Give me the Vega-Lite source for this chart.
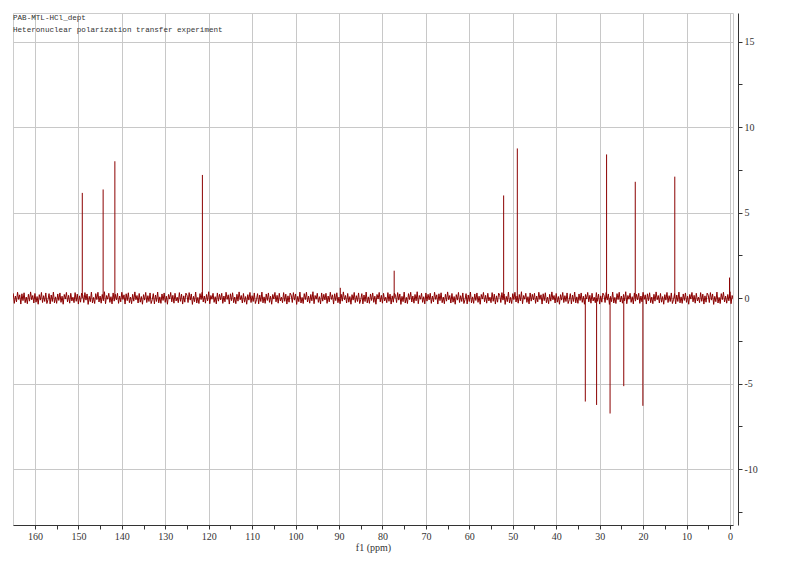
{
  "$schema": "https://vega.github.io/schema/vega-lite/v6.json",
  "width": 720,
  "height": 512,
  "autosize": {"type": "none"},
  "padding": {"left": 13, "top": 13, "right": 67, "bottom": 40},
  "background": "white",
  "title": {
    "text": ["PAB-MTL-HCl_dept", "Heteronuclear polarization transfer experiment"],
    "anchor": "start",
    "frame": "group",
    "orient": "top",
    "offset": -21,
    "font": "Liberation Mono",
    "fontSize": 7.6,
    "fontWeight": "normal",
    "color": "#333333",
    "lineHeight": 12
  },
  "config": {"view": {"stroke": "#cccccc"}},
  "datasets": {
    "noise": [
      {"ppm":165,"int":0.28},{"ppm":164.75,"int":-0.31},{"ppm":164.5,"int":0.12},{"ppm":164.25,"int":-0.22},{"ppm":164,"int":0.34},{"ppm":163.75,"int":-0.08},{"ppm":163.5,"int":0.19},{"ppm":163.25,"int":-0.35},{"ppm":163,"int":0.25},{"ppm":162.75,"int":-0.15},{"ppm":162.5,"int":0.31},{"ppm":162.25,"int":-0.27},{"ppm":162,"int":0.06},{"ppm":161.75,"int":-0.33},{"ppm":161.5,"int":0.22},{"ppm":161.25,"int":-0.18},{"ppm":161,"int":0.36},{"ppm":160.75,"int":-0.1},{"ppm":160.5,"int":0.15},{"ppm":160.25,"int":-0.29},{"ppm":160,"int":0.27},{"ppm":159.75,"int":-0.24},{"ppm":159.5,"int":0.09},{"ppm":159.25,"int":-0.36},{"ppm":159,"int":0.2},{"ppm":158.75,"int":-0.12},{"ppm":158.5,"int":0.33},{"ppm":158.25,"int":-0.26},{"ppm":158,"int":0.14},{"ppm":157.75,"int":-0.2},{"ppm":157.5,"int":0.3},{"ppm":157.25,"int":-0.32},
      {"ppm":157,"int":-0.1},{"ppm":156.75,"int":0.26},{"ppm":156.5,"int":-0.34},{"ppm":156.25,"int":0.18},{"ppm":156,"int":-0.2},{"ppm":155.75,"int":0.35},{"ppm":155.5,"int":-0.28},{"ppm":155.25,"int":0.07},{"ppm":155,"int":-0.31},{"ppm":154.75,"int":0.24},{"ppm":154.5,"int":-0.14},{"ppm":154.25,"int":0.3},{"ppm":154,"int":-0.25},{"ppm":153.75,"int":0.11},{"ppm":153.5,"int":-0.36},{"ppm":153.25,"int":0.21},{"ppm":153,"int":-0.06},{"ppm":152.75,"int":0.33},{"ppm":152.5,"int":-0.22},{"ppm":152.25,"int":0.16},{"ppm":152,"int":-0.3},{"ppm":151.75,"int":0.28},{"ppm":151.5,"int":-0.17},{"ppm":151.25,"int":0.05},{"ppm":151,"int":-0.27},{"ppm":150.75,"int":0.32},{"ppm":150.5,"int":-0.19},{"ppm":150.25,"int":0.23},{"ppm":150,"int":-0.35},{"ppm":149.75,"int":0.13},{"ppm":149.5,"int":-0.24},{"ppm":149.25,"int":0.29},
      {"ppm":149,"int":0.17},{"ppm":148.75,"int":-0.26},{"ppm":148.5,"int":0.32},{"ppm":148.25,"int":-0.12},{"ppm":148,"int":0.24},{"ppm":147.75,"int":-0.37},{"ppm":147.5,"int":0.1},{"ppm":147.25,"int":-0.21},{"ppm":147,"int":0.35},{"ppm":146.75,"int":-0.29},{"ppm":146.5,"int":0.04},{"ppm":146.25,"int":-0.32},{"ppm":146,"int":0.26},{"ppm":145.75,"int":-0.09},{"ppm":145.5,"int":0.34},{"ppm":145.25,"int":-0.23},{"ppm":145,"int":0.12},{"ppm":144.75,"int":-0.3},{"ppm":144.5,"int":0.21},{"ppm":144.25,"int":-0.16},{"ppm":144,"int":0.37},{"ppm":143.75,"int":-0.33},{"ppm":143.5,"int":0.15},{"ppm":143.25,"int":-0.07},{"ppm":143,"int":0.28},{"ppm":142.75,"int":-0.25},{"ppm":142.5,"int":0.08},{"ppm":142.25,"int":-0.34},{"ppm":142,"int":0.3},{"ppm":141.75,"int":-0.18},{"ppm":141.5,"int":0.22},{"ppm":141.25,"int":-0.11},
      {"ppm":141,"int":0.28},{"ppm":140.75,"int":-0.31},{"ppm":140.5,"int":0.12},{"ppm":140.25,"int":-0.22},{"ppm":140,"int":0.34},{"ppm":139.75,"int":-0.08},{"ppm":139.5,"int":0.19},{"ppm":139.25,"int":-0.35},{"ppm":139,"int":0.25},{"ppm":138.75,"int":-0.15},{"ppm":138.5,"int":0.31},{"ppm":138.25,"int":-0.27},{"ppm":138,"int":0.06},{"ppm":137.75,"int":-0.33},{"ppm":137.5,"int":0.22},{"ppm":137.25,"int":-0.18},{"ppm":137,"int":0.36},{"ppm":136.75,"int":-0.1},{"ppm":136.5,"int":0.15},{"ppm":136.25,"int":-0.29},{"ppm":136,"int":0.27},{"ppm":135.75,"int":-0.24},{"ppm":135.5,"int":0.09},{"ppm":135.25,"int":-0.36},{"ppm":135,"int":0.2},{"ppm":134.75,"int":-0.12},{"ppm":134.5,"int":0.33},{"ppm":134.25,"int":-0.26},{"ppm":134,"int":0.14},{"ppm":133.75,"int":-0.2},{"ppm":133.5,"int":0.3},{"ppm":133.25,"int":-0.32},
      {"ppm":133,"int":-0.1},{"ppm":132.75,"int":0.26},{"ppm":132.5,"int":-0.34},{"ppm":132.25,"int":0.18},{"ppm":132,"int":-0.2},{"ppm":131.75,"int":0.35},{"ppm":131.5,"int":-0.28},{"ppm":131.25,"int":0.07},{"ppm":131,"int":-0.31},{"ppm":130.75,"int":0.24},{"ppm":130.5,"int":-0.14},{"ppm":130.25,"int":0.3},{"ppm":130,"int":-0.25},{"ppm":129.75,"int":0.11},{"ppm":129.5,"int":-0.36},{"ppm":129.25,"int":0.21},{"ppm":129,"int":-0.06},{"ppm":128.75,"int":0.33},{"ppm":128.5,"int":-0.22},{"ppm":128.25,"int":0.16},{"ppm":128,"int":-0.3},{"ppm":127.75,"int":0.28},{"ppm":127.5,"int":-0.17},{"ppm":127.25,"int":0.05},{"ppm":127,"int":-0.27},{"ppm":126.75,"int":0.32},{"ppm":126.5,"int":-0.19},{"ppm":126.25,"int":0.23},{"ppm":126,"int":-0.35},{"ppm":125.75,"int":0.13},{"ppm":125.5,"int":-0.24},{"ppm":125.25,"int":0.29},
      {"ppm":125,"int":0.17},{"ppm":124.75,"int":-0.26},{"ppm":124.5,"int":0.32},{"ppm":124.25,"int":-0.12},{"ppm":124,"int":0.24},{"ppm":123.75,"int":-0.37},{"ppm":123.5,"int":0.1},{"ppm":123.25,"int":-0.21},{"ppm":123,"int":0.35},{"ppm":122.75,"int":-0.29},{"ppm":122.5,"int":0.04},{"ppm":122.25,"int":-0.32},{"ppm":122,"int":0.26},{"ppm":121.75,"int":-0.09},{"ppm":121.5,"int":0.34},{"ppm":121.25,"int":-0.23},{"ppm":121,"int":0.12},{"ppm":120.75,"int":-0.3},{"ppm":120.5,"int":0.21},{"ppm":120.25,"int":-0.16},{"ppm":120,"int":0.37},{"ppm":119.75,"int":-0.33},{"ppm":119.5,"int":0.15},{"ppm":119.25,"int":-0.07},{"ppm":119,"int":0.28},{"ppm":118.75,"int":-0.25},{"ppm":118.5,"int":0.08},{"ppm":118.25,"int":-0.34},{"ppm":118,"int":0.3},{"ppm":117.75,"int":-0.18},{"ppm":117.5,"int":0.22},{"ppm":117.25,"int":-0.11},
      {"ppm":117,"int":0.28},{"ppm":116.75,"int":-0.31},{"ppm":116.5,"int":0.12},{"ppm":116.25,"int":-0.22},{"ppm":116,"int":0.34},{"ppm":115.75,"int":-0.08},{"ppm":115.5,"int":0.19},{"ppm":115.25,"int":-0.35},{"ppm":115,"int":0.25},{"ppm":114.75,"int":-0.15},{"ppm":114.5,"int":0.31},{"ppm":114.25,"int":-0.27},{"ppm":114,"int":0.06},{"ppm":113.75,"int":-0.33},{"ppm":113.5,"int":0.22},{"ppm":113.25,"int":-0.18},{"ppm":113,"int":0.36},{"ppm":112.75,"int":-0.1},{"ppm":112.5,"int":0.15},{"ppm":112.25,"int":-0.29},{"ppm":112,"int":0.27},{"ppm":111.75,"int":-0.24},{"ppm":111.5,"int":0.09},{"ppm":111.25,"int":-0.36},{"ppm":111,"int":0.2},{"ppm":110.75,"int":-0.12},{"ppm":110.5,"int":0.33},{"ppm":110.25,"int":-0.26},{"ppm":110,"int":0.14},{"ppm":109.75,"int":-0.2},{"ppm":109.5,"int":0.3},{"ppm":109.25,"int":-0.32},
      {"ppm":109,"int":-0.1},{"ppm":108.75,"int":0.26},{"ppm":108.5,"int":-0.34},{"ppm":108.25,"int":0.18},{"ppm":108,"int":-0.2},{"ppm":107.75,"int":0.35},{"ppm":107.5,"int":-0.28},{"ppm":107.25,"int":0.07},{"ppm":107,"int":-0.31},{"ppm":106.75,"int":0.24},{"ppm":106.5,"int":-0.14},{"ppm":106.25,"int":0.3},{"ppm":106,"int":-0.25},{"ppm":105.75,"int":0.11},{"ppm":105.5,"int":-0.36},{"ppm":105.25,"int":0.21},{"ppm":105,"int":-0.06},{"ppm":104.75,"int":0.33},{"ppm":104.5,"int":-0.22},{"ppm":104.25,"int":0.16},{"ppm":104,"int":-0.3},{"ppm":103.75,"int":0.28},{"ppm":103.5,"int":-0.17},{"ppm":103.25,"int":0.05},{"ppm":103,"int":-0.27},{"ppm":102.75,"int":0.32},{"ppm":102.5,"int":-0.19},{"ppm":102.25,"int":0.23},{"ppm":102,"int":-0.35},{"ppm":101.75,"int":0.13},{"ppm":101.5,"int":-0.24},{"ppm":101.25,"int":0.29},
      {"ppm":101,"int":0.17},{"ppm":100.75,"int":-0.26},{"ppm":100.5,"int":0.32},{"ppm":100.25,"int":-0.12},{"ppm":100,"int":0.24},{"ppm":99.75,"int":-0.37},{"ppm":99.5,"int":0.1},{"ppm":99.25,"int":-0.21},{"ppm":99,"int":0.35},{"ppm":98.75,"int":-0.29},{"ppm":98.5,"int":0.04},{"ppm":98.25,"int":-0.32},{"ppm":98,"int":0.26},{"ppm":97.75,"int":-0.09},{"ppm":97.5,"int":0.34},{"ppm":97.25,"int":-0.23},{"ppm":97,"int":0.12},{"ppm":96.75,"int":-0.3},{"ppm":96.5,"int":0.21},{"ppm":96.25,"int":-0.16},{"ppm":96,"int":0.37},{"ppm":95.75,"int":-0.33},{"ppm":95.5,"int":0.15},{"ppm":95.25,"int":-0.07},{"ppm":95,"int":0.28},{"ppm":94.75,"int":-0.25},{"ppm":94.5,"int":0.08},{"ppm":94.25,"int":-0.34},{"ppm":94,"int":0.3},{"ppm":93.75,"int":-0.18},{"ppm":93.5,"int":0.22},{"ppm":93.25,"int":-0.11},
      {"ppm":93,"int":0.28},{"ppm":92.75,"int":-0.31},{"ppm":92.5,"int":0.12},{"ppm":92.25,"int":-0.22},{"ppm":92,"int":0.34},{"ppm":91.75,"int":-0.08},{"ppm":91.5,"int":0.19},{"ppm":91.25,"int":-0.35},{"ppm":91,"int":0.25},{"ppm":90.75,"int":-0.15},{"ppm":90.5,"int":0.31},{"ppm":90.25,"int":-0.27},{"ppm":90,"int":0.06},{"ppm":89.75,"int":-0.33},{"ppm":89.5,"int":0.22},{"ppm":89.25,"int":-0.18},{"ppm":89,"int":0.36},{"ppm":88.75,"int":-0.1},{"ppm":88.5,"int":0.15},{"ppm":88.25,"int":-0.29},{"ppm":88,"int":0.27},{"ppm":87.75,"int":-0.24},{"ppm":87.5,"int":0.09},{"ppm":87.25,"int":-0.36},{"ppm":87,"int":0.2},{"ppm":86.75,"int":-0.12},{"ppm":86.5,"int":0.33},{"ppm":86.25,"int":-0.26},{"ppm":86,"int":0.14},{"ppm":85.75,"int":-0.2},{"ppm":85.5,"int":0.3},{"ppm":85.25,"int":-0.32},
      {"ppm":85,"int":-0.1},{"ppm":84.75,"int":0.26},{"ppm":84.5,"int":-0.34},{"ppm":84.25,"int":0.18},{"ppm":84,"int":-0.2},{"ppm":83.75,"int":0.35},{"ppm":83.5,"int":-0.28},{"ppm":83.25,"int":0.07},{"ppm":83,"int":-0.31},{"ppm":82.75,"int":0.24},{"ppm":82.5,"int":-0.14},{"ppm":82.25,"int":0.3},{"ppm":82,"int":-0.25},{"ppm":81.75,"int":0.11},{"ppm":81.5,"int":-0.36},{"ppm":81.25,"int":0.21},{"ppm":81,"int":-0.06},{"ppm":80.75,"int":0.33},{"ppm":80.5,"int":-0.22},{"ppm":80.25,"int":0.16},{"ppm":80,"int":-0.3},{"ppm":79.75,"int":0.28},{"ppm":79.5,"int":-0.17},{"ppm":79.25,"int":0.05},{"ppm":79,"int":-0.27},{"ppm":78.75,"int":0.32},{"ppm":78.5,"int":-0.19},{"ppm":78.25,"int":0.23},{"ppm":78,"int":-0.35},{"ppm":77.75,"int":0.13},{"ppm":77.5,"int":-0.24},{"ppm":77.25,"int":0.29},
      {"ppm":77,"int":0.17},{"ppm":76.75,"int":-0.26},{"ppm":76.5,"int":0.32},{"ppm":76.25,"int":-0.12},{"ppm":76,"int":0.24},{"ppm":75.75,"int":-0.37},{"ppm":75.5,"int":0.1},{"ppm":75.25,"int":-0.21},{"ppm":75,"int":0.35},{"ppm":74.75,"int":-0.29},{"ppm":74.5,"int":0.04},{"ppm":74.25,"int":-0.32},{"ppm":74,"int":0.26},{"ppm":73.75,"int":-0.09},{"ppm":73.5,"int":0.34},{"ppm":73.25,"int":-0.23},{"ppm":73,"int":0.12},{"ppm":72.75,"int":-0.3},{"ppm":72.5,"int":0.21},{"ppm":72.25,"int":-0.16},{"ppm":72,"int":0.37},{"ppm":71.75,"int":-0.33},{"ppm":71.5,"int":0.15},{"ppm":71.25,"int":-0.07},{"ppm":71,"int":0.28},{"ppm":70.75,"int":-0.25},{"ppm":70.5,"int":0.08},{"ppm":70.25,"int":-0.34},{"ppm":70,"int":0.3},{"ppm":69.75,"int":-0.18},{"ppm":69.5,"int":0.22},{"ppm":69.25,"int":-0.11},
      {"ppm":69,"int":0.28},{"ppm":68.75,"int":-0.31},{"ppm":68.5,"int":0.12},{"ppm":68.25,"int":-0.22},{"ppm":68,"int":0.34},{"ppm":67.75,"int":-0.08},{"ppm":67.5,"int":0.19},{"ppm":67.25,"int":-0.35},{"ppm":67,"int":0.25},{"ppm":66.75,"int":-0.15},{"ppm":66.5,"int":0.31},{"ppm":66.25,"int":-0.27},{"ppm":66,"int":0.06},{"ppm":65.75,"int":-0.33},{"ppm":65.5,"int":0.22},{"ppm":65.25,"int":-0.18},{"ppm":65,"int":0.36},{"ppm":64.75,"int":-0.1},{"ppm":64.5,"int":0.15},{"ppm":64.25,"int":-0.29},{"ppm":64,"int":0.27},{"ppm":63.75,"int":-0.24},{"ppm":63.5,"int":0.09},{"ppm":63.25,"int":-0.36},{"ppm":63,"int":0.2},{"ppm":62.75,"int":-0.12},{"ppm":62.5,"int":0.33},{"ppm":62.25,"int":-0.26},{"ppm":62,"int":0.14},{"ppm":61.75,"int":-0.2},{"ppm":61.5,"int":0.3},{"ppm":61.25,"int":-0.32},
      {"ppm":61,"int":-0.1},{"ppm":60.75,"int":0.26},{"ppm":60.5,"int":-0.34},{"ppm":60.25,"int":0.18},{"ppm":60,"int":-0.2},{"ppm":59.75,"int":0.35},{"ppm":59.5,"int":-0.28},{"ppm":59.25,"int":0.07},{"ppm":59,"int":-0.31},{"ppm":58.75,"int":0.24},{"ppm":58.5,"int":-0.14},{"ppm":58.25,"int":0.3},{"ppm":58,"int":-0.25},{"ppm":57.75,"int":0.11},{"ppm":57.5,"int":-0.36},{"ppm":57.25,"int":0.21},{"ppm":57,"int":-0.06},{"ppm":56.75,"int":0.33},{"ppm":56.5,"int":-0.22},{"ppm":56.25,"int":0.16},{"ppm":56,"int":-0.3},{"ppm":55.75,"int":0.28},{"ppm":55.5,"int":-0.17},{"ppm":55.25,"int":0.05},{"ppm":55,"int":-0.27},{"ppm":54.75,"int":0.32},{"ppm":54.5,"int":-0.19},{"ppm":54.25,"int":0.23},{"ppm":54,"int":-0.35},{"ppm":53.75,"int":0.13},{"ppm":53.5,"int":-0.24},{"ppm":53.25,"int":0.29},
      {"ppm":53,"int":0.17},{"ppm":52.75,"int":-0.26},{"ppm":52.5,"int":0.32},{"ppm":52.25,"int":-0.12},{"ppm":52,"int":0.24},{"ppm":51.75,"int":-0.37},{"ppm":51.5,"int":0.1},{"ppm":51.25,"int":-0.21},{"ppm":51,"int":0.35},{"ppm":50.75,"int":-0.29},{"ppm":50.5,"int":0.04},{"ppm":50.25,"int":-0.32},{"ppm":50,"int":0.26},{"ppm":49.75,"int":-0.09},{"ppm":49.5,"int":0.34},{"ppm":49.25,"int":-0.23},{"ppm":49,"int":0.12},{"ppm":48.75,"int":-0.3},{"ppm":48.5,"int":0.21},{"ppm":48.25,"int":-0.16},{"ppm":48,"int":0.37},{"ppm":47.75,"int":-0.33},{"ppm":47.5,"int":0.15},{"ppm":47.25,"int":-0.07},{"ppm":47,"int":0.28},{"ppm":46.75,"int":-0.25},{"ppm":46.5,"int":0.08},{"ppm":46.25,"int":-0.34},{"ppm":46,"int":0.3},{"ppm":45.75,"int":-0.18},{"ppm":45.5,"int":0.22},{"ppm":45.25,"int":-0.11},
      {"ppm":45,"int":0.28},{"ppm":44.75,"int":-0.31},{"ppm":44.5,"int":0.12},{"ppm":44.25,"int":-0.22},{"ppm":44,"int":0.34},{"ppm":43.75,"int":-0.08},{"ppm":43.5,"int":0.19},{"ppm":43.25,"int":-0.35},{"ppm":43,"int":0.25},{"ppm":42.75,"int":-0.15},{"ppm":42.5,"int":0.31},{"ppm":42.25,"int":-0.27},{"ppm":42,"int":0.06},{"ppm":41.75,"int":-0.33},{"ppm":41.5,"int":0.22},{"ppm":41.25,"int":-0.18},{"ppm":41,"int":0.36},{"ppm":40.75,"int":-0.1},{"ppm":40.5,"int":0.15},{"ppm":40.25,"int":-0.29},{"ppm":40,"int":0.27},{"ppm":39.75,"int":-0.24},{"ppm":39.5,"int":0.09},{"ppm":39.25,"int":-0.36},{"ppm":39,"int":0.2},{"ppm":38.75,"int":-0.12},{"ppm":38.5,"int":0.33},{"ppm":38.25,"int":-0.26},{"ppm":38,"int":0.14},{"ppm":37.75,"int":-0.2},{"ppm":37.5,"int":0.3},{"ppm":37.25,"int":-0.32},
      {"ppm":37,"int":-0.1},{"ppm":36.75,"int":0.26},{"ppm":36.5,"int":-0.34},{"ppm":36.25,"int":0.18},{"ppm":36,"int":-0.2},{"ppm":35.75,"int":0.35},{"ppm":35.5,"int":-0.28},{"ppm":35.25,"int":0.07},{"ppm":35,"int":-0.31},{"ppm":34.75,"int":0.24},{"ppm":34.5,"int":-0.14},{"ppm":34.25,"int":0.3},{"ppm":34,"int":-0.25},{"ppm":33.75,"int":0.11},{"ppm":33.5,"int":-0.36},{"ppm":33.25,"int":0.21},{"ppm":33,"int":-0.06},{"ppm":32.75,"int":0.33},{"ppm":32.5,"int":-0.22},{"ppm":32.25,"int":0.16},{"ppm":32,"int":-0.3},{"ppm":31.75,"int":0.28},{"ppm":31.5,"int":-0.17},{"ppm":31.25,"int":0.05},{"ppm":31,"int":-0.27},{"ppm":30.75,"int":0.32},{"ppm":30.5,"int":-0.19},{"ppm":30.25,"int":0.23},{"ppm":30,"int":-0.35},{"ppm":29.75,"int":0.13},{"ppm":29.5,"int":-0.24},{"ppm":29.25,"int":0.29},
      {"ppm":29,"int":0.17},{"ppm":28.75,"int":-0.26},{"ppm":28.5,"int":0.32},{"ppm":28.25,"int":-0.12},{"ppm":28,"int":0.24},{"ppm":27.75,"int":-0.37},{"ppm":27.5,"int":0.1},{"ppm":27.25,"int":-0.21},{"ppm":27,"int":0.35},{"ppm":26.75,"int":-0.29},{"ppm":26.5,"int":0.04},{"ppm":26.25,"int":-0.32},{"ppm":26,"int":0.26},{"ppm":25.75,"int":-0.09},{"ppm":25.5,"int":0.34},{"ppm":25.25,"int":-0.23},{"ppm":25,"int":0.12},{"ppm":24.75,"int":-0.3},{"ppm":24.5,"int":0.21},{"ppm":24.25,"int":-0.16},{"ppm":24,"int":0.37},{"ppm":23.75,"int":-0.33},{"ppm":23.5,"int":0.15},{"ppm":23.25,"int":-0.07},{"ppm":23,"int":0.28},{"ppm":22.75,"int":-0.25},{"ppm":22.5,"int":0.08},{"ppm":22.25,"int":-0.34},{"ppm":22,"int":0.3},{"ppm":21.75,"int":-0.18},{"ppm":21.5,"int":0.22},{"ppm":21.25,"int":-0.11},
      {"ppm":21,"int":0.28},{"ppm":20.75,"int":-0.31},{"ppm":20.5,"int":0.12},{"ppm":20.25,"int":-0.22},{"ppm":20,"int":0.34},{"ppm":19.75,"int":-0.08},{"ppm":19.5,"int":0.19},{"ppm":19.25,"int":-0.35},{"ppm":19,"int":0.25},{"ppm":18.75,"int":-0.15},{"ppm":18.5,"int":0.31},{"ppm":18.25,"int":-0.27},{"ppm":18,"int":0.06},{"ppm":17.75,"int":-0.33},{"ppm":17.5,"int":0.22},{"ppm":17.25,"int":-0.18},{"ppm":17,"int":0.36},{"ppm":16.75,"int":-0.1},{"ppm":16.5,"int":0.15},{"ppm":16.25,"int":-0.29},{"ppm":16,"int":0.27},{"ppm":15.75,"int":-0.24},{"ppm":15.5,"int":0.09},{"ppm":15.25,"int":-0.36},{"ppm":15,"int":0.2},{"ppm":14.75,"int":-0.12},{"ppm":14.5,"int":0.33},{"ppm":14.25,"int":-0.26},{"ppm":14,"int":0.14},{"ppm":13.75,"int":-0.2},{"ppm":13.5,"int":0.3},{"ppm":13.25,"int":-0.32},
      {"ppm":13,"int":-0.1},{"ppm":12.75,"int":0.26},{"ppm":12.5,"int":-0.34},{"ppm":12.25,"int":0.18},{"ppm":12,"int":-0.2},{"ppm":11.75,"int":0.35},{"ppm":11.5,"int":-0.28},{"ppm":11.25,"int":0.07},{"ppm":11,"int":-0.31},{"ppm":10.75,"int":0.24},{"ppm":10.5,"int":-0.14},{"ppm":10.25,"int":0.3},{"ppm":10,"int":-0.25},{"ppm":9.75,"int":0.11},{"ppm":9.5,"int":-0.36},{"ppm":9.25,"int":0.21},{"ppm":9,"int":-0.06},{"ppm":8.75,"int":0.33},{"ppm":8.5,"int":-0.22},{"ppm":8.25,"int":0.16},{"ppm":8,"int":-0.3},{"ppm":7.75,"int":0.28},{"ppm":7.5,"int":-0.17},{"ppm":7.25,"int":0.05},{"ppm":7,"int":-0.27},{"ppm":6.75,"int":0.32},{"ppm":6.5,"int":-0.19},{"ppm":6.25,"int":0.23},{"ppm":6,"int":-0.35},{"ppm":5.75,"int":0.13},{"ppm":5.5,"int":-0.24},{"ppm":5.25,"int":0.29},
      {"ppm":5,"int":0.17},{"ppm":4.75,"int":-0.26},{"ppm":4.5,"int":0.32},{"ppm":4.25,"int":-0.12},{"ppm":4,"int":0.24},{"ppm":3.75,"int":-0.37},{"ppm":3.5,"int":0.1},{"ppm":3.25,"int":-0.21},{"ppm":3,"int":0.35},{"ppm":2.75,"int":-0.29},{"ppm":2.5,"int":0.04},{"ppm":2.25,"int":-0.32},{"ppm":2,"int":0.26},{"ppm":1.75,"int":-0.09},{"ppm":1.5,"int":0.34},{"ppm":1.25,"int":-0.23},{"ppm":1,"int":0.12},{"ppm":0.75,"int":-0.3},{"ppm":0.5,"int":0.21},{"ppm":0.25,"int":-0.16},{"ppm":0,"int":0.37},{"ppm":-0.25,"int":-0.33},{"ppm":-0.5,"int":0.15},{"ppm":-0.75,"int":-0.07}
    ],
    "peaks": [
      {"ppm":149.1,"int":6.15},{"ppm":144.3,"int":6.35},{"ppm":141.6,"int":8.0},{"ppm":121.45,"int":7.2},
      {"ppm":89.7,"int":0.6},{"ppm":77.3,"int":1.6},{"ppm":52.1,"int":6.0},{"ppm":48.95,"int":8.75},
      {"ppm":33.3,"int":-6.05},{"ppm":30.7,"int":-6.25},{"ppm":28.4,"int":8.4},{"ppm":27.6,"int":-6.75},
      {"ppm":24.45,"int":-5.15},{"ppm":21.8,"int":6.8},{"ppm":20.05,"int":-6.3},{"ppm":12.7,"int":7.1},
      {"ppm":0.1,"int":1.2}
    ]
  },
  "encoding": {
    "x": {
      "field": "ppm",
      "type": "quantitative",
      "scale": {"domain": [165.05, -0.7], "nice": false, "zero": false},
      "axis": {
        "title": "f1 (ppm)",
        "values": [160,155,150,145,140,135,130,125,120,115,110,105,100,95,90,85,80,75,70,65,60,55,50,45,40,35,30,25,20,15,10,5,0],
        "labelExpr": "datum.value % 10 === 0 ? datum.label : ''",
        "grid": true,
        "gridColor": "#c8c8c8",
        "gridWidth": 1,
        "gridOpacity": {"condition": {"test": "datum.value % 10 === 0", "value": 1}, "value": 0},
        "domainColor": "#333333",
        "tickColor": "#333333",
        "tickSize": 4,
        "labelFont": "Liberation Serif",
        "labelFontSize": 10,
        "labelColor": "#333333",
        "labelPadding": 2,
        "titleFont": "Liberation Serif",
        "titleFontSize": 10,
        "titleFontWeight": "normal",
        "titleColor": "#333333",
        "titlePadding": 1
      }
    },
    "y": {
      "field": "int",
      "type": "quantitative",
      "scale": {"domain": [-13.27, 16.67], "nice": false, "zero": false},
      "axis": {
        "orient": "right",
        "offset": 5,
        "title": null,
        "values": [-12.5,-10,-7.5,-5,-2.5,0,2.5,5,7.5,10,12.5,15],
        "labelExpr": "datum.value % 5 === 0 ? '' + datum.value : ''",
        "grid": true,
        "gridColor": "#c8c8c8",
        "gridWidth": 1,
        "gridOpacity": {"condition": {"test": "datum.value % 5 === 0", "value": 1}, "value": 0},
        "domainColor": "#333333",
        "tickColor": "#333333",
        "tickSize": 4,
        "labelFont": "Liberation Serif",
        "labelFontSize": 10,
        "labelColor": "#333333",
        "labelPadding": 2
      }
    }
  },
  "layer": [
    {
      "data": {"name": "noise"},
      "mark": {"type": "line", "color": "#8b0000", "strokeWidth": 1, "clip": true}
    },
    {
      "data": {"name": "peaks"},
      "mark": {"type": "rule", "color": "#8b0000", "strokeWidth": 1},
      "encoding": {"y2": {"datum": 0}}
    }
  ]
}
